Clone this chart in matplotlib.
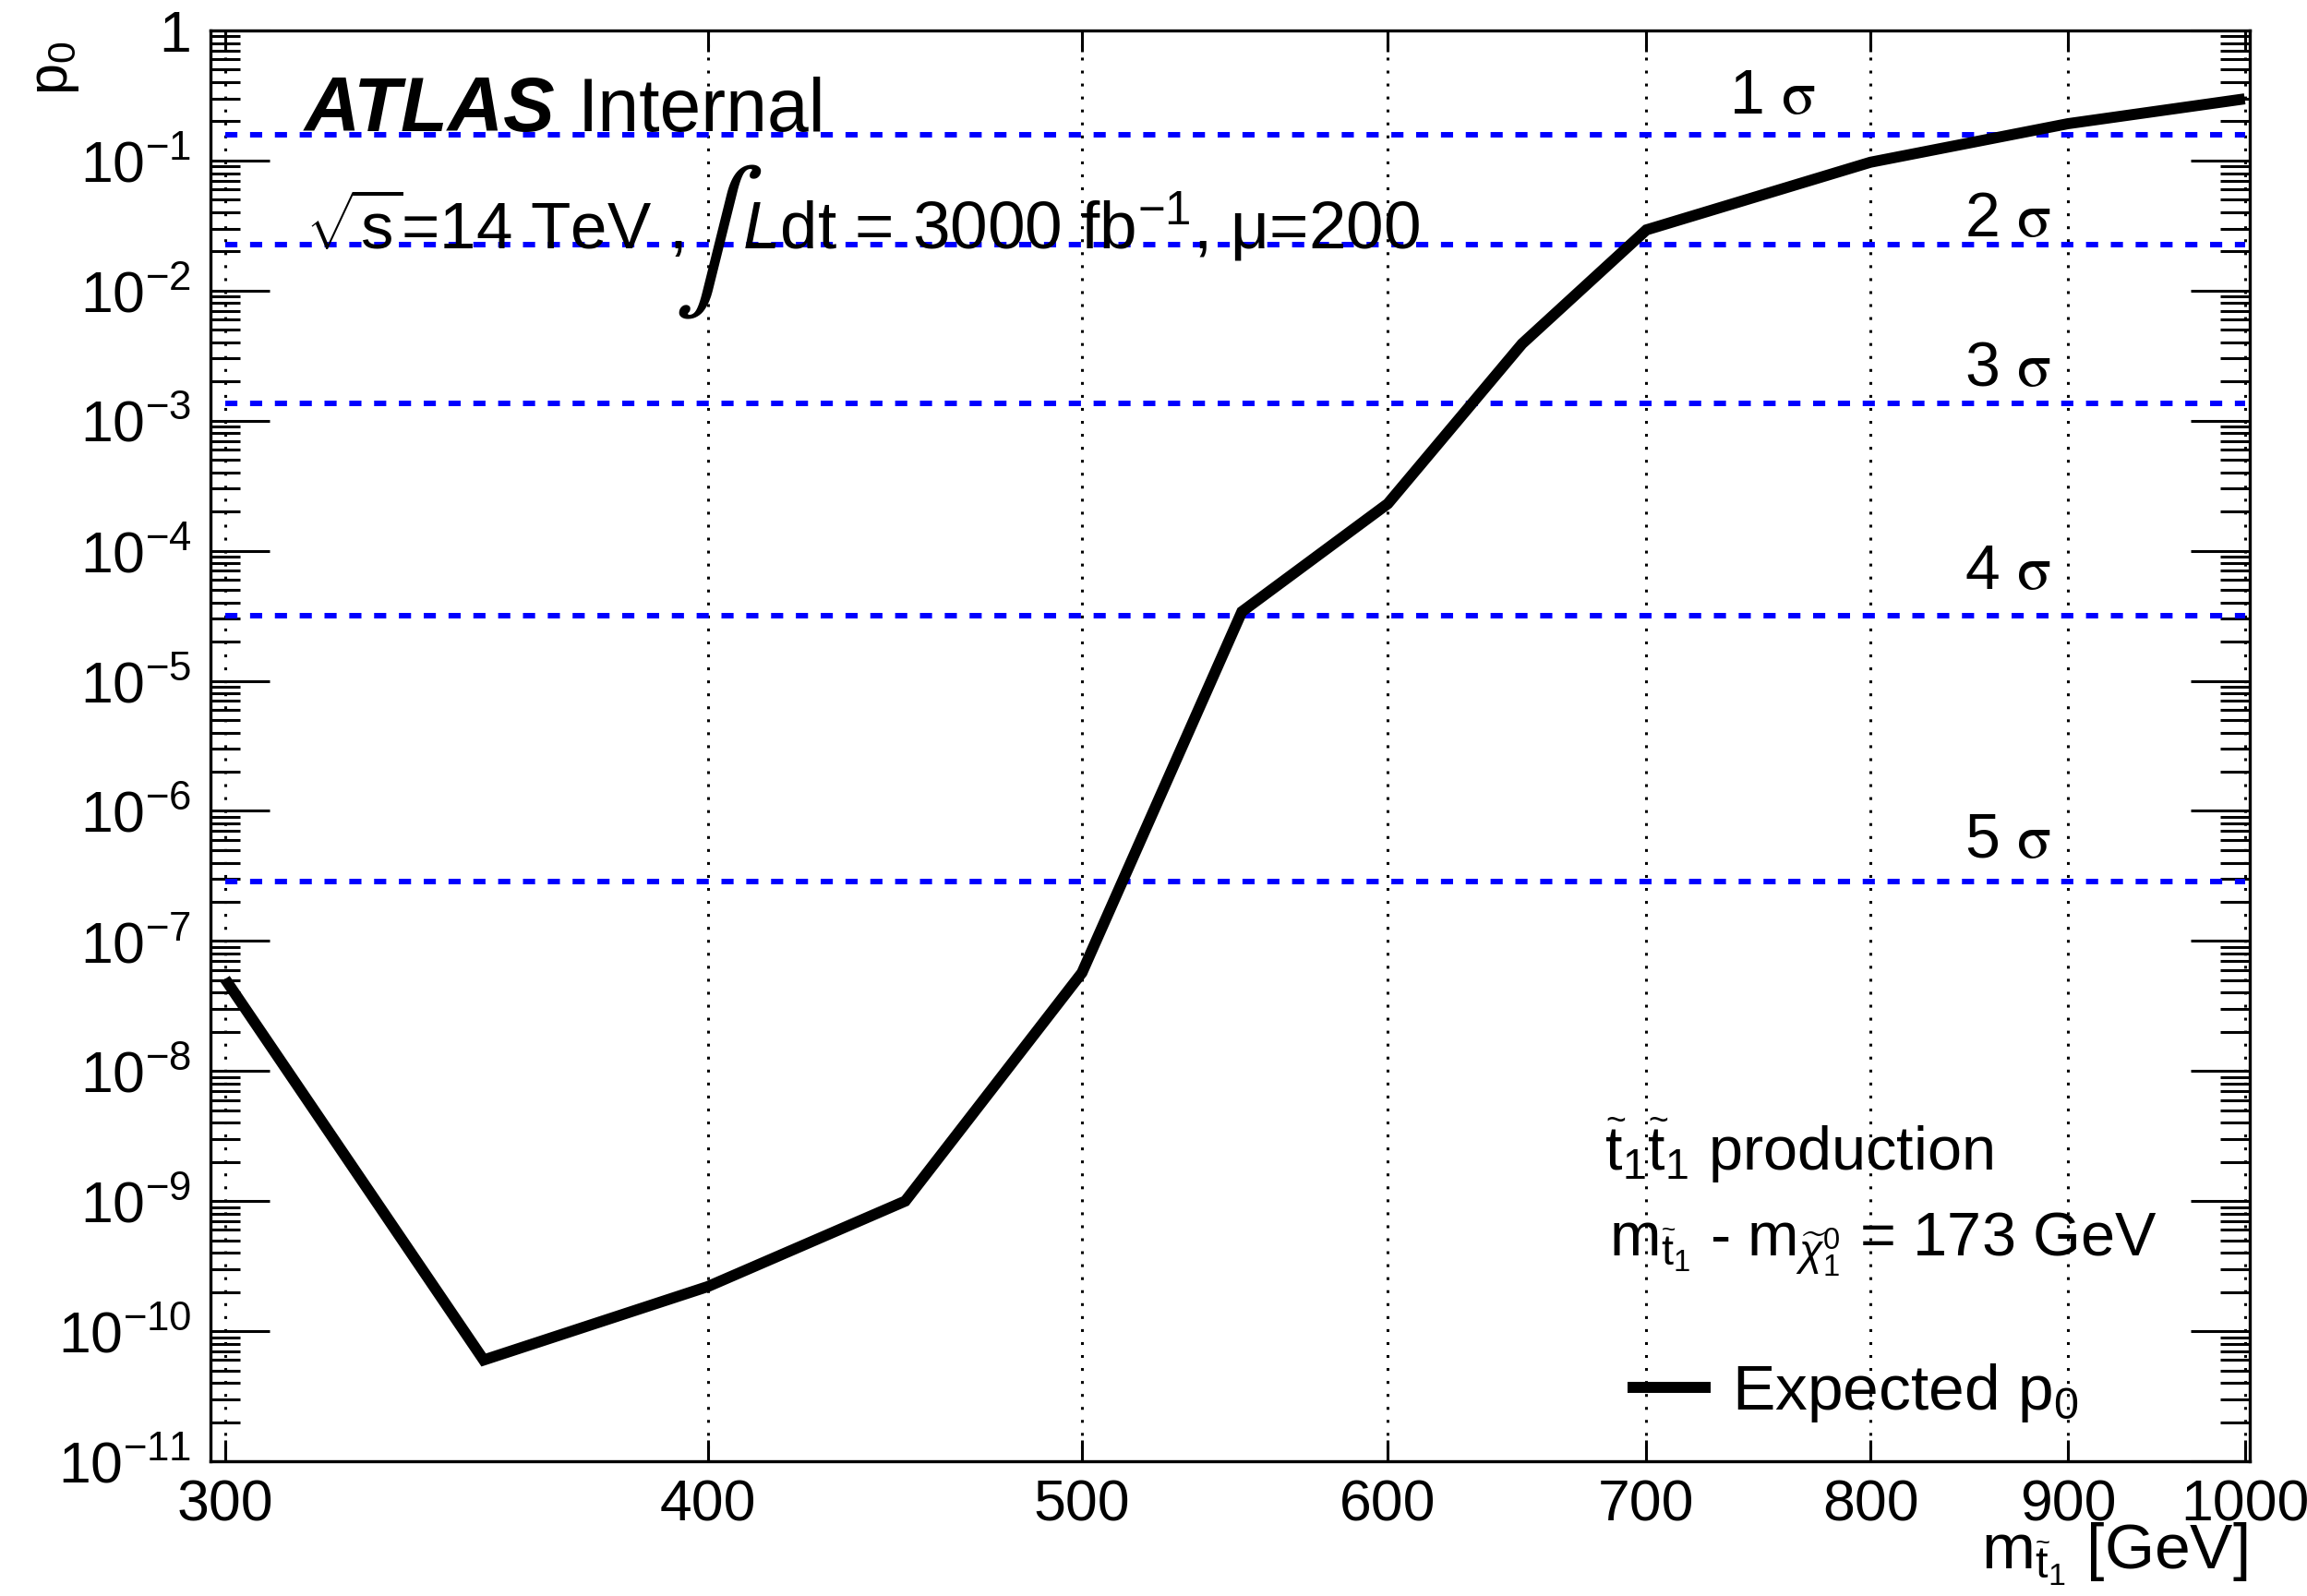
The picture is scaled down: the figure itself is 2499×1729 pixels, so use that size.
import matplotlib
matplotlib.use("Agg")
import matplotlib.pyplot as plt
from matplotlib.ticker import LogLocator, NullLocator, NullFormatter

plt.rcParams['font.family'] = ['Liberation Sans', 'DejaVu Sans']
plt.rcParams['mathtext.fontset'] = 'custom'
plt.rcParams['mathtext.rm'] = 'Liberation Sans'
plt.rcParams['mathtext.it'] = 'Liberation Sans:italic'
plt.rcParams['mathtext.bf'] = 'Liberation Sans:bold'

# expected discovery p-value versus stop mass
stop_mass = [300, 350, 400, 450, 500, 550, 600, 650, 700, 800, 900, 1000]
expected_p0 = [5.1e-8, 6.0e-11, 2.2e-10, 1.0e-9, 5.7e-8, 3.4e-5, 2.3e-4,
               3.9e-3, 2.93e-2, 9.7e-2, 0.192, 0.298]

# one-sided p-values of the n-sigma thresholds
sigma_names = ['1', '2', '3', '4', '5']
sigma_p = [0.1587, 0.02275, 1.35e-3, 3.167e-5, 2.867e-7]

x_ticks = [300, 400, 500, 600, 700, 800, 900, 1000]
x_tick_labels = ['300', '400', '500', '600', '700', '800', '900', '1000']
y_ticks = [1e-11, 1e-10, 1e-9, 1e-8, 1e-7, 1e-6, 1e-5, 1e-4, 1e-3, 1e-2, 1e-1, 1]
y_tick_labels = [r'$10^{-11}$', r'$10^{-10}$', r'$10^{-9}$', r'$10^{-8}$',
                 r'$10^{-7}$', r'$10^{-6}$', r'$10^{-5}$', r'$10^{-4}$',
                 r'$10^{-3}$', r'$10^{-2}$', r'$10^{-1}$', '1']

W, H = 2499, 1729
fig = plt.figure(figsize=(W / 100, H / 100), dpi=100)


def fx(px):
    return px / W


def fy(py):
    return 1 - py / H


ax = fig.add_axes([fx(228), fy(1583), (2437 - 228) / W, (1583 - 33) / H])
ax.set_xscale('log')
ax.set_yscale('log')
ax.set_xlim(297.4, 1003)
ax.set_ylim(1e-11, 1)

for s in ax.spines.values():
    s.set_linewidth(2.4)

ax.set_xticks(x_ticks, labels=x_tick_labels)
ax.xaxis.set_minor_locator(NullLocator())
ax.set_yticks(y_ticks, labels=y_tick_labels)
ax.yaxis.set_minor_locator(LogLocator(base=10, subs=range(2, 10), numticks=50))
ax.yaxis.set_minor_formatter(NullFormatter())

ax.tick_params(axis='x', which='major', direction='in', length=16.5, width=2.2,
               top=True, bottom=True, labelsize=45, pad=13)
ax.tick_params(axis='y', which='major', direction='in', length=46, width=2.2,
               left=True, right=True, labelsize=45, pad=15)
ax.tick_params(axis='y', which='minor', direction='in', length=23, width=2.2,
               left=True, right=True)

ax.grid(True, axis='x', which='major', color='black',
        linestyle=(0, (1.0, 3.6)), linewidth=2.2)

# n-sigma reference lines
ax.hlines(sigma_p, stop_mass[0], stop_mass[-1], colors='#0000ff',
          linestyles=[(0, (2.2, 2.3))], linewidth=4.3, zorder=2)

sigma_label_pos = [(735.5, 0.23), (846, 0.0261), (846, 1.85e-3),
                   (846, 5.1e-5), (846, 4.4e-7)]
for name, (lx, ly) in zip(sigma_names, sigma_label_pos):
    ax.text(lx, ly, name + r' $\mathrm{\sigma}$', fontsize=49, va='baseline',
            ha='left', math_fontfamily='stix')

line, = ax.plot(stop_mass, expected_p0, color='black', linewidth=8.6,
                solid_joinstyle='miter', solid_capstyle='butt', zorder=3,
                label=r'Expected p$_{0}$')

# labels
fig.text(fx(330), fy(142), 'ATLAS', fontsize=60, fontweight='bold',
         fontstyle='italic', va='baseline')
fig.text(fx(626), fy(142), 'Internal', fontsize=58, va='baseline')

fig.text(fx(331), fy(270), r'$\sqrt{\mathrm{s}}$=14 TeV ,', fontsize=51,
         va='baseline')
fig.text(fx(730), fy(262), r'$\int$', fontsize=105, va='center', ha='left',
         math_fontfamily='stix')
fig.text(fx(804), fy(270), r'$\mathit{L}$dt = 3000 fb$^{-1}$, $\mathrm{\mu}$=200',
         fontsize=52.5, va='baseline')

fig.text(fx(1738), fy(1268),
         r'$\widetilde{\mathrm{t}}_{1}\widetilde{\mathrm{t}}_{1}$ production',
         fontsize=48, va='baseline')
fig.text(fx(1743), fy(1360),
         r'm$_{\widetilde{\mathrm{t}}_{1}}$ - m$_{\widetilde{\chi}^{0}_{1}}$ = 173 GeV',
         fontsize=48, va='baseline')

leg = ax.legend(handles=[line], loc='center left',
                bbox_to_anchor=(fx(1763), fy(1509)),
                bbox_transform=fig.transFigure, frameon=False, fontsize=50,
                handlelength=1.3, handletextpad=0.32, borderpad=0,
                borderaxespad=0)

fig.text(fx(2434), fy(1700), r'm$_{\widetilde{\mathrm{t}}_{1}}$ [GeV]', fontsize=50,
         ha='right', va='baseline')
fig.text(fx(88), fy(44), r'p$_{0}$', fontsize=44, rotation=90,
         ha='right', va='top')

fig.savefig('out.png', dpi=100)
